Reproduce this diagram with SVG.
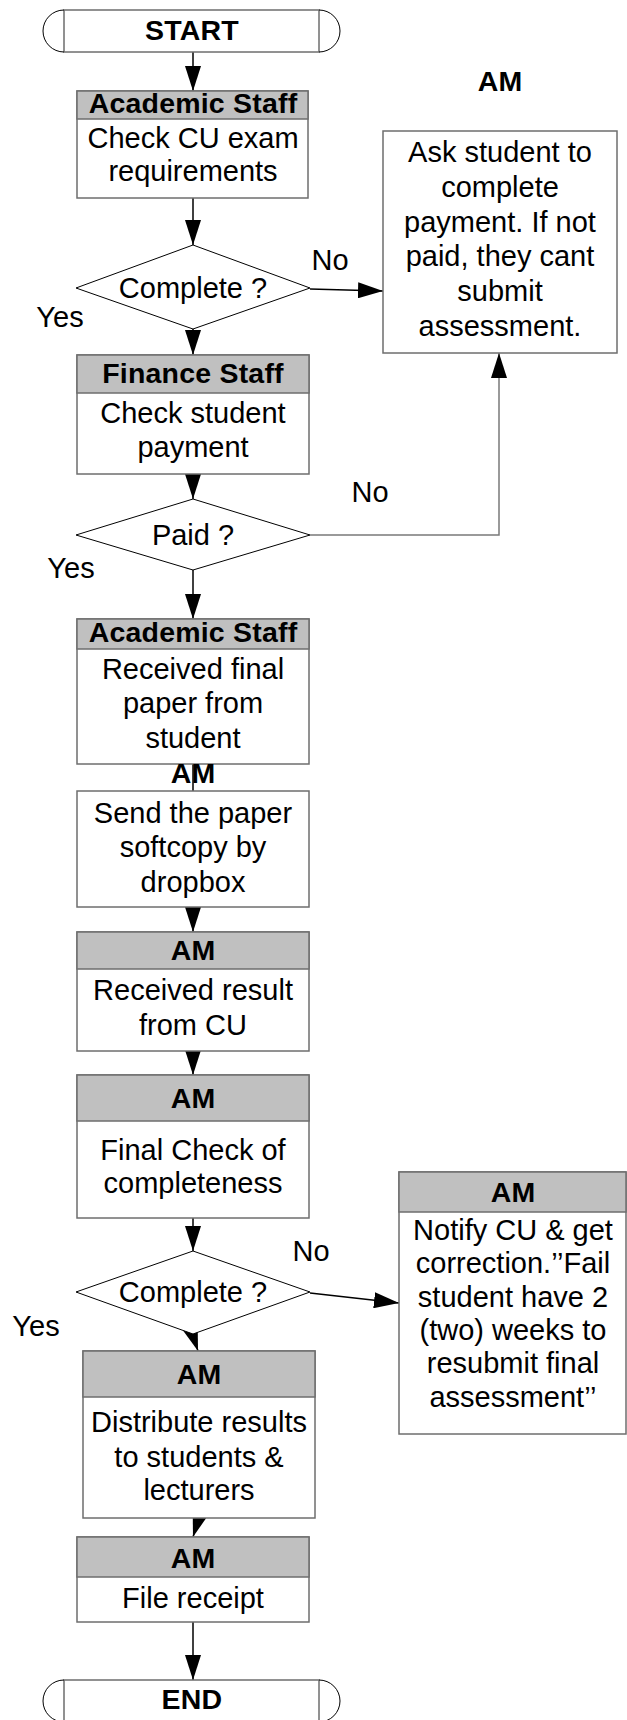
<svg xmlns="http://www.w3.org/2000/svg" width="627" height="1720" viewBox="0 0 627 1720">
<style>
.t{font-family:"Liberation Sans",Arial,sans-serif;font-size:29px;text-anchor:middle;fill:#000}
.b{font-weight:bold;font-size:28.5px;letter-spacing:0.2px}
.box{fill:#fff;stroke:#6e6e6e;stroke-width:1.5}
.hdr{fill:#c0c0c0;stroke:#6e6e6e;stroke-width:1.5}
.dia{fill:#fff;stroke:#000;stroke-width:1}
.arc{fill:none;stroke:#000;stroke-width:1}
.c{fill:none;stroke:#000;stroke-width:1.5}
.g{fill:none;stroke:#7a7a7a;stroke-width:1.5}
</style>
<defs>
<marker id="ah" markerUnits="userSpaceOnUse" markerWidth="26" markerHeight="16" refX="25" refY="8" orient="auto">
<path d="M0,0 L25,8 L0,16 Z" fill="#000"/>
</marker>
</defs>

<g id="connectors">
<path class="c" d="M193,52 V91" marker-end="url(#ah)"/>
<path class="c" d="M193,198 V245" marker-end="url(#ah)"/>
<path class="c" d="M193,329 V355" marker-end="url(#ah)"/>
<path class="c" d="M310,289 L383,291" marker-end="url(#ah)"/>
<path class="c" d="M193,474 V499" marker-end="url(#ah)"/>
<path class="c" d="M193,570 V619" marker-end="url(#ah)"/>
<path class="g" d="M310,535 H499 V353" marker-end="url(#ah)"/>
<path class="c" d="M193,764 V791"/>
<path class="c" d="M193,907 V932" marker-end="url(#ah)"/>
<path class="c" d="M193,1051 V1075" marker-end="url(#ah)"/>
<path class="c" d="M193,1218 V1251" marker-end="url(#ah)"/>
<path class="c" d="M310,1293 L399,1303" marker-end="url(#ah)"/>
<path class="c" d="M187,1318 L198,1351" marker-end="url(#ah)"/>
<path class="c" d="M201,1511 L193,1537" marker-end="url(#ah)"/>
<path class="c" d="M193,1622 V1680" marker-end="url(#ah)"/>
</g>

<g id="start">
<rect class="box" x="64" y="10" width="255" height="42"/>
<path class="arc" d="M64,10 A21,21 0 0 0 64,52"/>
<path class="arc" d="M319,10 A21,21 0 0 1 319,52"/>
<text class="t b" x="192" y="40">START</text>
</g>

<g id="box1">
<rect class="box" x="77" y="91" width="231" height="107"/>
<rect class="hdr" x="77" y="91" width="231" height="28"/>
<text class="t b" x="193" y="113">Academic Staff</text>
<text class="t" x="193" y="148">Check CU exam</text>
<text class="t" x="193" y="181">requirements</text>
</g>

<g id="diamond1">
<polygon class="dia" points="193,245 310,288 193,329 76,288"/>
<text class="t" x="193" y="298">Complete ?</text>
</g>

<g id="am-label1">
<text class="t b" x="500" y="91">AM</text>
</g>

<g id="rbox1">
<rect class="box" x="383" y="131" width="234" height="222"/>
<text class="t" x="500" y="162">Ask student to</text>
<text class="t" x="500" y="197">complete</text>
<text class="t" x="500" y="232">payment. If not</text>
<text class="t" x="500" y="266">paid, they cant</text>
<text class="t" x="500" y="301">submit</text>
<text class="t" x="500" y="336">assessment.</text>
</g>

<g id="labels">
<text class="t" x="330" y="270">No</text>
<text class="t" x="60" y="327">Yes</text>
<text class="t" x="370" y="502">No</text>
<text class="t" x="71" y="578">Yes</text>
<text class="t" x="311" y="1261">No</text>
<text class="t" x="36" y="1336">Yes</text>
</g>

<g id="box2">
<rect class="box" x="77" y="355" width="232" height="119"/>
<rect class="hdr" x="77" y="355" width="232" height="38"/>
<text class="t b" x="193" y="383">Finance Staff</text>
<text class="t" x="193" y="423">Check student</text>
<text class="t" x="193" y="457">payment</text>
</g>

<g id="diamond2">
<polygon class="dia" points="193,499 310,535 193,570 76,535"/>
<text class="t" x="193" y="545">Paid ?</text>
</g>

<g id="box3">
<rect class="box" x="77" y="619" width="232" height="145"/>
<rect class="hdr" x="77" y="619" width="232" height="30"/>
<text class="t b" x="193" y="642">Academic Staff</text>
<text class="t" x="193" y="679">Received final</text>
<text class="t" x="193" y="713">paper from</text>
<text class="t" x="193" y="748">student</text>
</g>

<g id="am-label2">
<text class="t b" x="193" y="783">AM</text>
</g>

<g id="box4">
<rect class="box" x="77" y="791" width="232" height="116"/>
<text class="t" x="193" y="823">Send the paper</text>
<text class="t" x="193" y="857">softcopy by</text>
<text class="t" x="193" y="892">dropbox</text>
</g>

<g id="box5">
<rect class="box" x="77" y="932" width="232" height="119"/>
<rect class="hdr" x="77" y="932" width="232" height="37"/>
<text class="t b" x="193" y="960">AM</text>
<text class="t" x="193" y="1000">Received result</text>
<text class="t" x="193" y="1035">from CU</text>
</g>

<g id="box6">
<rect class="box" x="77" y="1075" width="232" height="143"/>
<rect class="hdr" x="77" y="1075" width="232" height="46"/>
<text class="t b" x="193" y="1108">AM</text>
<text class="t" x="193" y="1160">Final Check of</text>
<text class="t" x="193" y="1193">completeness</text>
</g>

<g id="diamond3">
<polygon class="dia" points="193,1251 310,1292 193,1334 76,1292"/>
<text class="t" x="193" y="1302">Complete ?</text>
</g>

<g id="rbox2">
<rect class="box" x="399" y="1172" width="227" height="262"/>
<rect class="hdr" x="399" y="1172" width="227" height="40"/>
<text class="t b" x="513" y="1202">AM</text>
<text class="t" x="513" y="1240">Notify CU &amp; get</text>
<text class="t" x="513" y="1273">correction.’’Fail</text>
<text class="t" x="513" y="1307">student have 2</text>
<text class="t" x="513" y="1340">(two) weeks to</text>
<text class="t" x="513" y="1373">resubmit final</text>
<text class="t" x="513" y="1407">assessment’’</text>
</g>

<g id="box7">
<rect class="box" x="83" y="1351" width="232" height="167"/>
<rect class="hdr" x="83" y="1351" width="232" height="46"/>
<text class="t b" x="199" y="1384">AM</text>
<text class="t" x="199" y="1432">Distribute results</text>
<text class="t" x="199" y="1467">to students &amp;</text>
<text class="t" x="199" y="1500">lecturers</text>
</g>

<g id="box8">
<rect class="box" x="77" y="1537" width="232" height="85"/>
<rect class="hdr" x="77" y="1537" width="232" height="40"/>
<text class="t b" x="193" y="1568">AM</text>
<text class="t" x="193" y="1608">File receipt</text>
</g>

<g id="end">
<rect class="box" x="64" y="1680" width="255" height="42"/>
<path class="arc" d="M64,1680 A21,21 0 0 0 64,1722"/>
<path class="arc" d="M319,1680 A21,21 0 0 1 319,1722"/>
<text class="t b" x="192" y="1709">END</text>
</g>
</svg>
